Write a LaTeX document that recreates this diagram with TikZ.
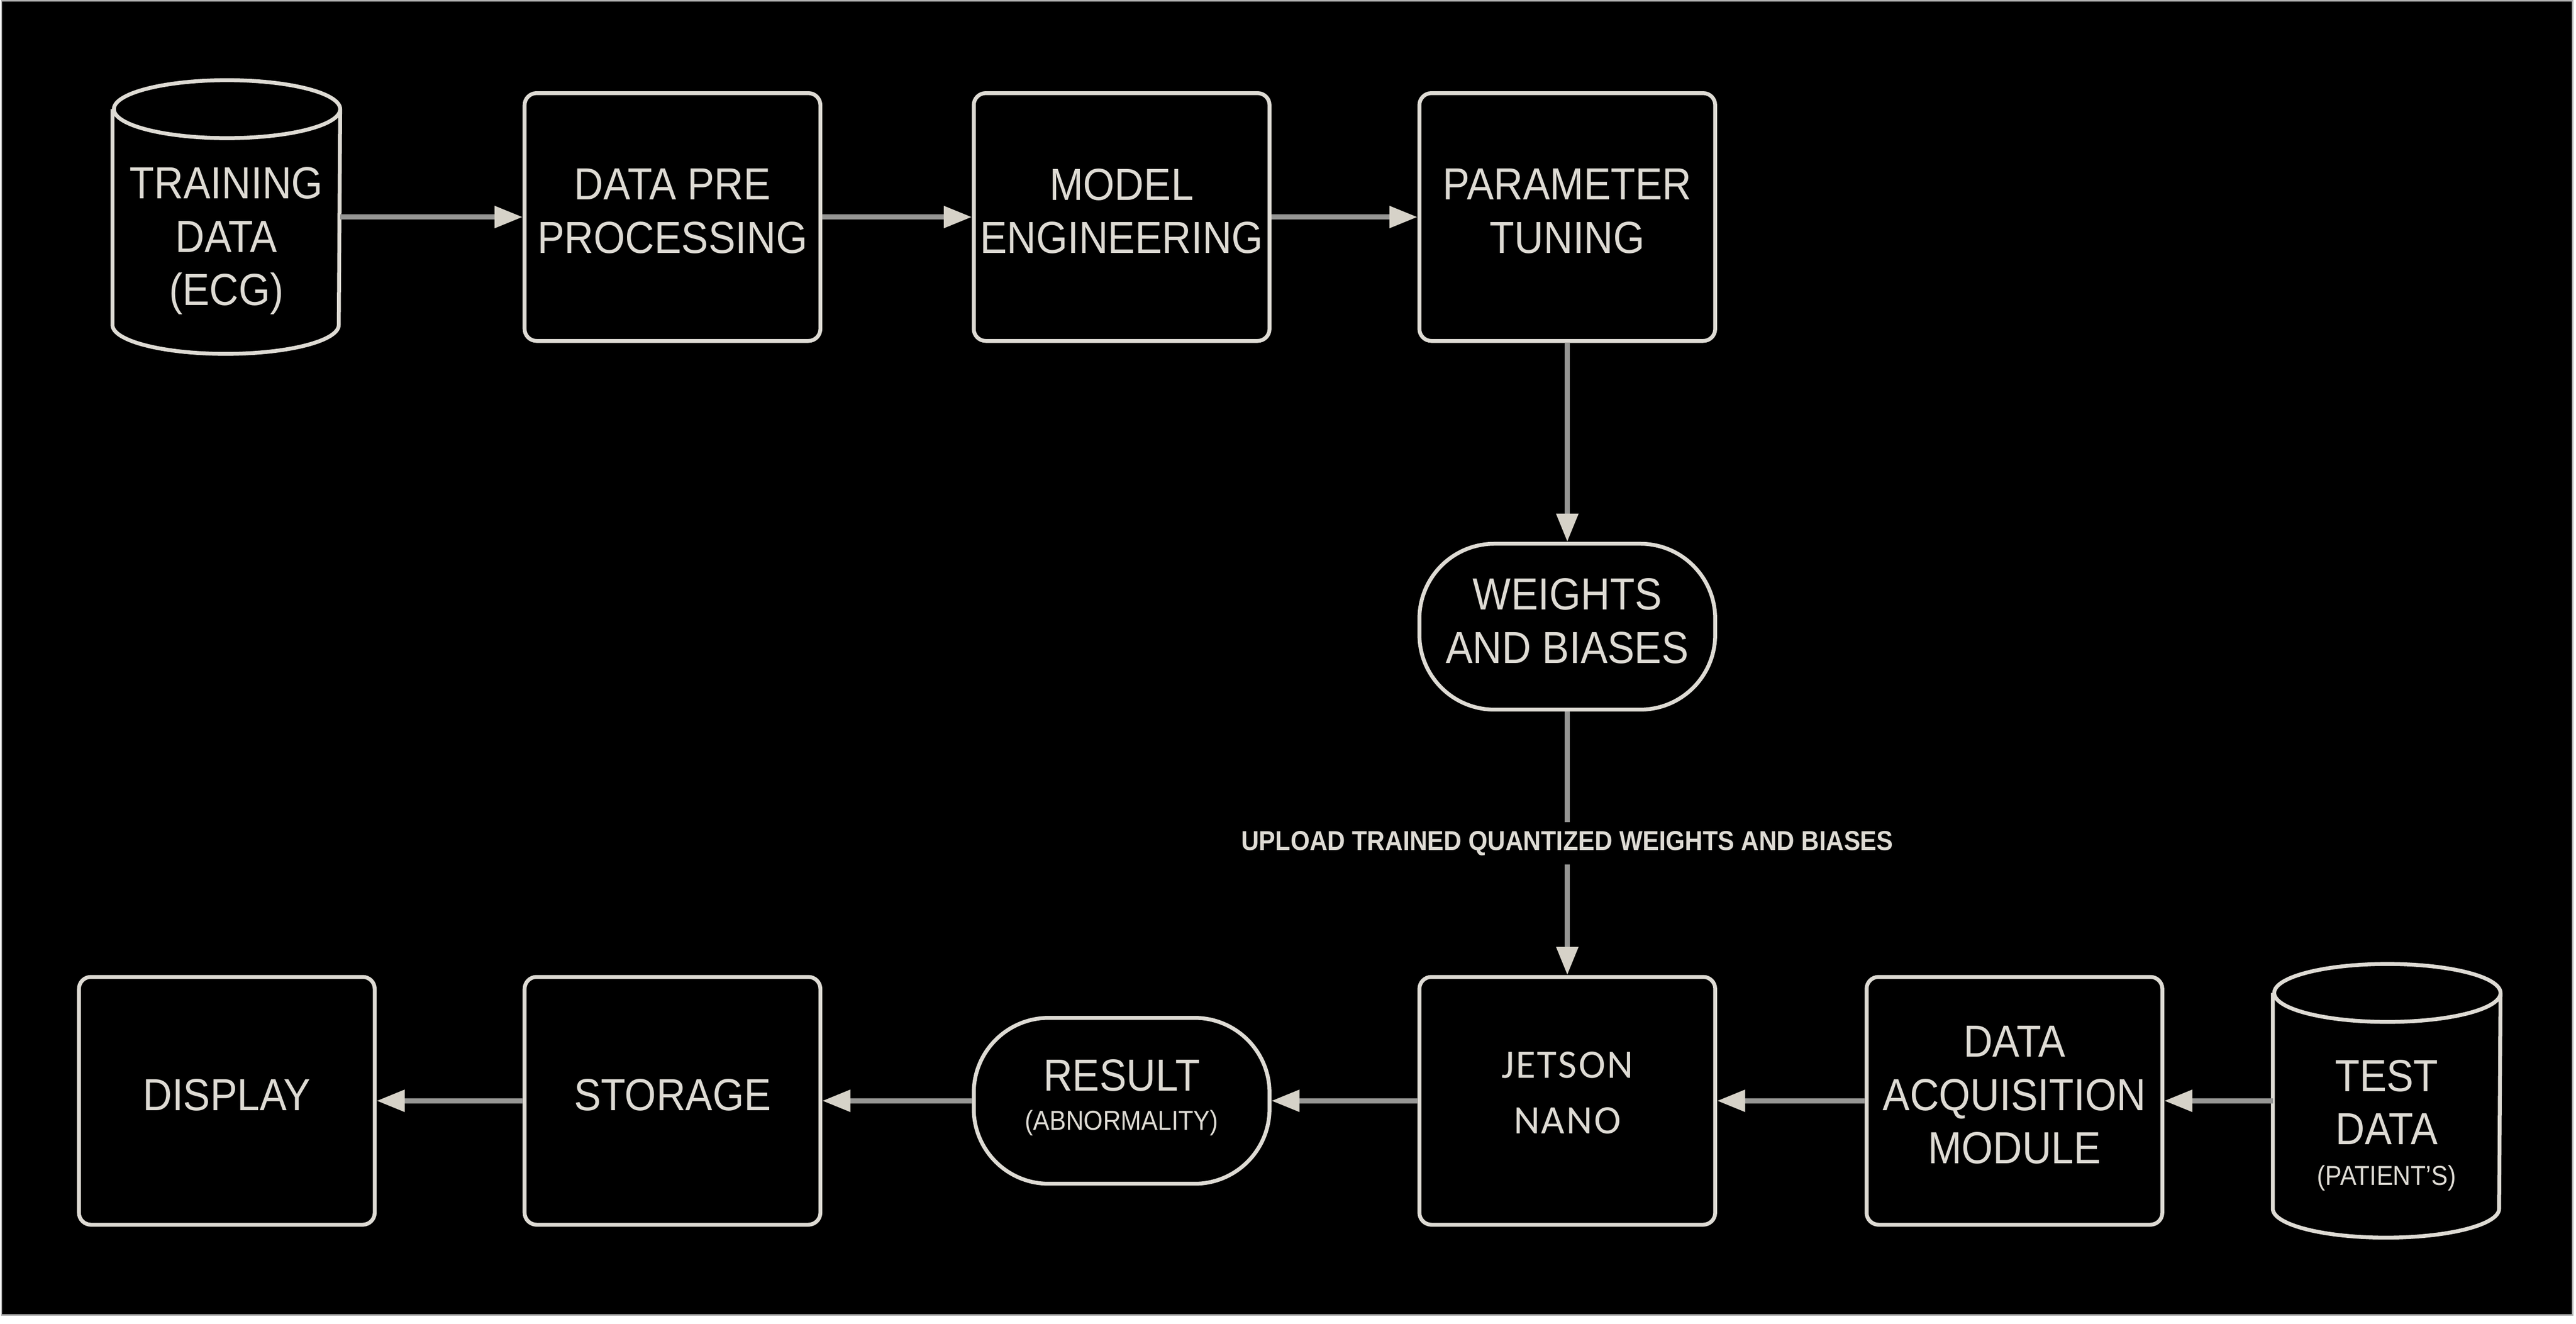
\documentclass[tikz,border=0pt]{standalone}
\usepackage{fontspec}
\setmainfont[FakeStretch=0.9]{Liberation Sans}
\newfontfamily\jetsonfont[LetterSpace=4]{Carlito}
\usetikzlibrary{arrows.meta}
\definecolor{chalk}{RGB}{222,219,212}
\definecolor{wire}{RGB}{150,150,148}
\definecolor{tipgray}{RGB}{214,210,200}
\def\drum(#1)(#2:#3){\draw[chalk, line width=1.1pt] ([yshift=-#3]#1.north west) -- ([yshift=#3]#1.south west) arc (180:360:#2 and #3) -- ([yshift=-#3]#1.north east) arc (0:360:#2 and #3);}

\begin{document}
\begin{tikzpicture}[
	stage/.style={draw=chalk, line width=1.1pt, rounded corners=0.12cm, minimum width=2.96cm, minimum height=2.48cm, inner sep=0pt, text depth=0.12cm, align=center, text=chalk, font=\fontsize{12.8}{15.2}\selectfont},
	pill/.style={stage, rounded corners=0.75cm, minimum height=1.66cm},
	pad/.style={minimum width=2.265cm, minimum height=2.725cm, inner sep=0pt},
	txt/.style={align=center, text=chalk, inner sep=0pt, font=\fontsize{12.8}{15.2}\selectfont},
	flow/.style={draw=wire, line width=1.4pt, -{Triangle[length=8pt,width=6pt,color=tipgray]}}
	]
				%%%%% START %%%%%
				
				\fill[white] (0, 0) rectangle (25.78, 13.245);
				\draw[fill=black, draw=gray!60, line width=0.4pt] (0.015, 0.085) rectangle (25.745, 13.24);
				
				\node[pad] (train) at (2.265, 11.075) {};
				\node[txt] (traintxt) at ([yshift=-0.24cm]train.center) {TRAINING\\DATA\\(ECG)};
				\drum(train)(1.1325cm:0.29cm)
				
				\node[stage] (prep) at (6.73, 11.075) {DATA PRE\\PROCESSING};
				\node[stage] (model) at (11.225, 11.075) {MODEL\\ENGINEERING};
				\node[stage] (tune) at (15.685, 11.075) {PARAMETER\\TUNING};
				
				\node[pill] (wts) at (15.685, 6.975) {WEIGHTS\\AND BIASES};
				
				\node[stage, text depth=0.16cm, font=\jetsonfont\fontsize{11.5}{15.9}\selectfont] (jetson) at (15.685, 2.23) {JETSON\\NANO};
				\node[stage] (daq) at (20.16, 2.23) {DATA\\ACQUISITION\\MODULE};
				
				\node[pad] (test) at (23.885, 2.23) {};
				\node[txt] (testtxt) at ([yshift=-0.245cm]test.center) {TEST\\DATA\\[-3.7pt]{\fontsize{7.8}{9}\selectfont (PATIENT'S)}};
				\drum(test)(1.1325cm:0.29cm)
				
				\node[pill] (result) at (11.225, 2.23) {RESULT\\[-4pt]{\fontsize{7.8}{9}\selectfont (ABNORMALITY)}};
				\node[stage] (store) at (6.73, 2.23) {STORAGE};
				\node[stage] (disp) at (2.27, 2.23) {DISPLAY};
				
				\draw[flow] (train) -- (prep);
				\draw[flow] (prep) -- (model);
				\draw[flow] (model) -- (tune);
				\draw[flow] (tune) -- (wts);
				\draw[flow] (wts) -- node[midway, fill=black, text=chalk, inner sep=2.5pt, font=\bfseries\fontsize{7.8}{9}\selectfont] {UPLOAD TRAINED QUANTIZED WEIGHTS AND BIASES} (jetson);
				\draw[flow] (test.west) -- (daq);
				\draw[flow] (daq) -- (jetson);
				\draw[flow] (jetson) -- (result);
				\draw[flow] (result) -- (store);
				\draw[flow] (store) -- (disp);
				%%%%% END %%%%%
\end{tikzpicture}
\end{document}
